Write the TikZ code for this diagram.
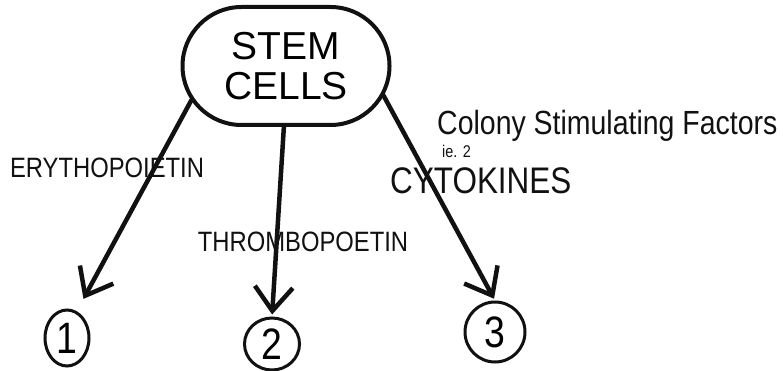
\documentclass[tikz,border=0pt]{standalone}
\usepackage{fontspec}
\newfontfamily\handfont[FakeStretch=0.85]{Liberation Sans}
\newfontfamily\blockfont{Liberation Sans}
\usetikzlibrary{arrows.meta,positioning,shapes.misc,shapes.geometric}
\definecolor{ink}{HTML}{111111}
\tikzset{
  cellblob/.style={draw=ink,line width=4pt,rounded rectangle,
                   minimum width=207pt,minimum height=118pt,inner sep=0pt,
                   align=center,font=\blockfont\fontsize{39}{40}\selectfont},
  typebubble/.style={draw=ink,line width=3pt,ellipse,inner sep=0pt,
                     font=\handfont\fontsize{44}{44}\selectfont},
  factortag/.style={text=ink,inner sep=0pt,font=\handfont\fontsize{28}{30}\selectfont},
  handnote/.style={text=ink,inner sep=0pt,anchor=base west},
  growarr/.style={draw=ink,line width=4.5pt,line cap=round,
                  -{Straight Barb[length=24pt,width=38pt,line width=4.5pt]}}
}
\begin{document}
\begin{tikzpicture}[x=1pt,y=-1pt]
  \useasboundingbox (0,0) rectangle (783,371);
  \node[cellblob] (stem) at (286,66) {STEM\\CELLS};

  \node[typebubble,minimum width=44pt,minimum height=56pt] (one) at (67,338) {1};
  \node[typebubble,minimum width=55pt,minimum height=52pt] (two) at (272,344) {2};
  \node[typebubble,minimum width=60pt,minimum height=60pt] (three) at (495,332) {3};

  \draw[growarr,shorten >=14pt] (stem.200) -- (one.70);
  \draw[growarr,shorten >=2pt] (stem.-92) -- (two.north);
  \draw[growarr,shorten >=2pt] (stem.-17) -- (three.north);

  % hormone labels
  \node[factortag] (epo) at (107,168) {ERYTHOPOIETIN};
  \node[factortag] (tpo) at (303,242) {THROMBOPOETIN};
  \node[handnote,font=\handfont\fontsize{33.5}{34}\selectfont] (csf) at (437,135) {Colony Stimulating Factors};
  \node[handnote,font=\handfont\fontsize{17}{18}\selectfont] (ie) at (442,158) {ie. 2};
  \node[handnote,font=\handfont\fontsize{37}{38}\selectfont] (cyto) at (390,194) {CYTOKINES};
\end{tikzpicture}
\end{document}
